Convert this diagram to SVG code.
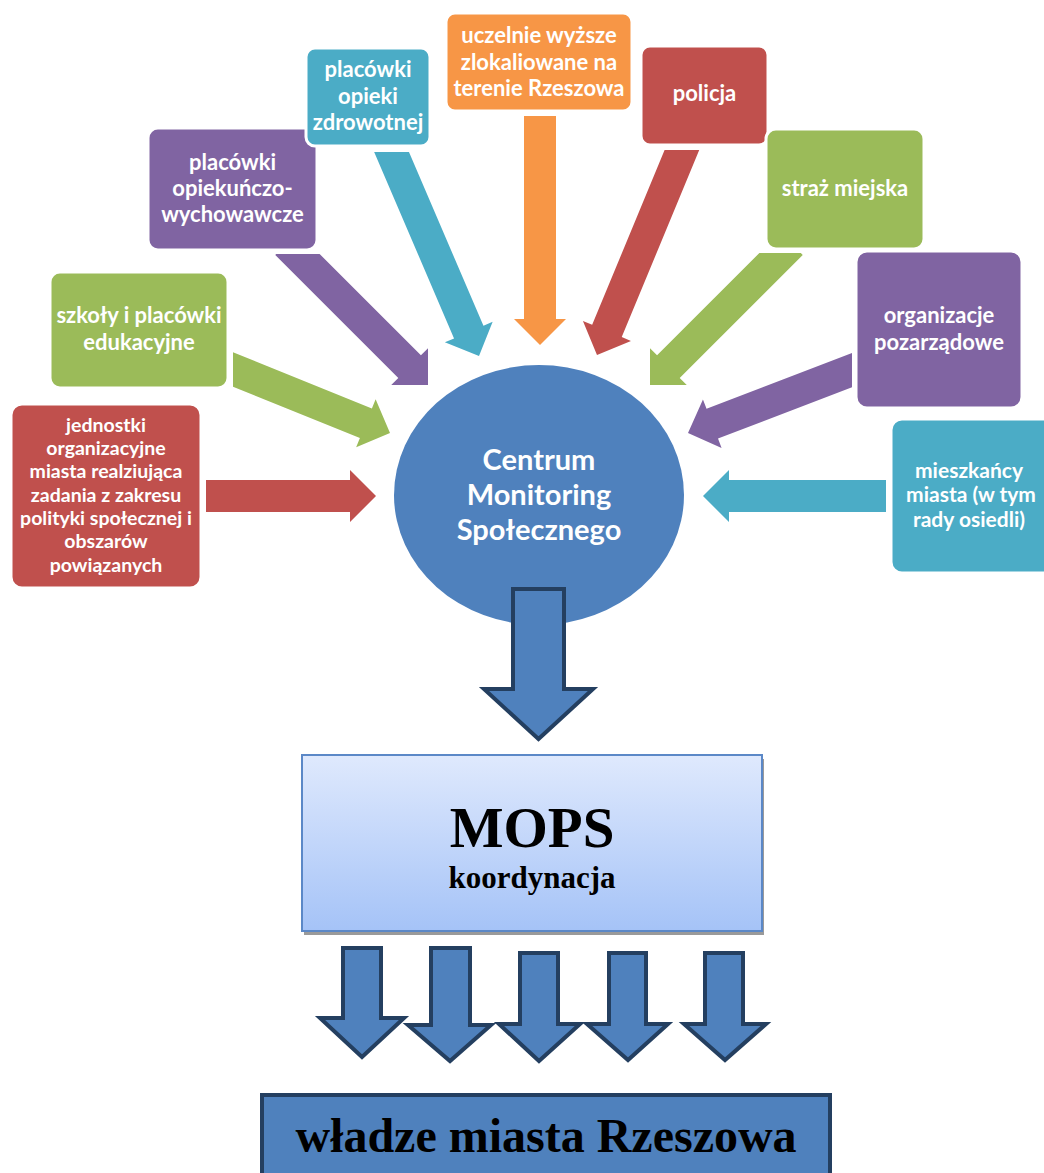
<svg xmlns="http://www.w3.org/2000/svg" width="1044" height="1173" viewBox="0 0 1044 1173">
<defs>
<style>
.bx{stroke:#fff;stroke-width:3}
.red{fill:#C0504D}.grn{fill:#9BBB59}.pur{fill:#8064A2}.tea{fill:#4BACC6}.org{fill:#F79646}
.t{font-family:Lato,"Open Sans","Noto Sans",sans-serif;font-weight:bold;fill:#fff;text-anchor:middle}
.t22{font-size:22px}.t21{font-size:21px}.t19{font-size:19.5px}
.ct{font-size:29px}
.blk{fill:#4F81BD;stroke:#243F60;stroke-width:4;stroke-linejoin:miter}
.tn{font-family:"Liberation Serif","Times New Roman",serif;font-weight:bold;fill:#000;text-anchor:middle}
</style>
<linearGradient id="mg" x1="0" y1="0" x2="0" y2="1">
<stop offset="0" stop-color="#DFE9FD"/>
<stop offset="1" stop-color="#A5C3F7"/>
</linearGradient>
<clipPath id="cGL"><rect x="233" y="0" width="811" height="1173"/></clipPath>
<clipPath id="cPL"><rect x="0" y="254" width="1044" height="919"/></clipPath>
<clipPath id="cTE"><rect x="0" y="152" width="1044" height="1021"/></clipPath>
<clipPath id="cPO"><rect x="0" y="150" width="1044" height="1023"/></clipPath>
<clipPath id="cGR"><rect x="0" y="253" width="1044" height="920"/></clipPath>
<clipPath id="cPR"><rect x="0" y="0" width="852" height="1173"/></clipPath>
</defs>
<rect width="1044" height="1173" fill="#fff"/>

<g id="connectors">
<path class="red" transform="translate(376,496)" d="M0,0 L-26,-26 L-26,-16 L-170,-16 L-170,16 L-26,16 L-26,26 Z"/>
<g clip-path="url(#cGL)"><path class="grn" transform="translate(390,433) rotate(22)" d="M0,0 L-26,-26 L-26,-16 L-185,-16 L-185,16 L-26,16 L-26,26 Z"/></g>
<g clip-path="url(#cPL)"><path class="pur" transform="translate(428,385) rotate(45)" d="M0,0 L-26,-26 L-26,-16 L-200,-16 L-200,16 L-26,16 L-26,26 Z"/></g>
<g clip-path="url(#cTE)"><path class="tea" transform="translate(479,356) rotate(66.8)" d="M0,0 L-26,-26 L-26,-16 L-236,-16 L-236,16 L-26,16 L-26,26 Z"/></g>
<path class="org" transform="translate(540,345) rotate(90)" d="M0,0 L-26,-26 L-26,-16 L-229,-16 L-229,16 L-26,16 L-26,26 Z"/>
<g clip-path="url(#cPO)"><path class="red" transform="translate(597,355) rotate(112.5)" d="M0,0 L-26,-26 L-26,-16 L-236,-16 L-236,16 L-26,16 L-26,26 Z"/></g>
<g clip-path="url(#cGR)"><path class="grn" transform="translate(650,385) rotate(135)" d="M0,0 L-26,-26 L-26,-16 L-200,-16 L-200,16 L-26,16 L-26,26 Z"/></g>
<g clip-path="url(#cPR)"><path class="pur" transform="translate(688,433) rotate(159)" d="M0,0 L-26,-26 L-26,-16 L-190,-16 L-190,16 L-26,16 L-26,26 Z"/></g>
<path class="tea" transform="translate(703,496) rotate(180)" d="M0,0 L-26,-26 L-26,-16 L-183,-16 L-183,16 L-26,16 L-26,26 Z"/>
</g>

<g id="n-jednostki">
<rect class="bx red" x="11" y="404" width="190" height="184" rx="11"/>
<text class="t t19" x="106"><tspan x="106" y="432">jednostki</tspan><tspan x="106" y="455">organizacyjne</tspan><tspan x="106" y="478">miasta realziująca</tspan><tspan x="106" y="502">zadania z zakresu</tspan><tspan x="106" y="525">polityki społecznej i</tspan><tspan x="106" y="548">obszarów</tspan><tspan x="106" y="572">powiązanych</tspan></text>
</g>
<g id="n-szkoly">
<rect class="bx grn" x="50" y="272" width="178" height="116" rx="10"/>
<text class="t t22"><tspan x="139" y="323">szkoły i placówki</tspan><tspan x="139" y="350">edukacyjne</tspan></text>
</g>
<g id="n-opiekunczo">
<rect class="bx pur" x="148" y="128" width="169" height="122" rx="10"/>
<text class="t t22"><tspan x="232.5" y="170">placówki</tspan><tspan x="232.5" y="196">opiekuńczo-</tspan><tspan x="232.5" y="222">wychowawcze</tspan></text>
</g>
<g id="n-zdrowotnej">
<rect class="bx tea" x="306" y="48" width="124" height="98" rx="9"/>
<text class="t t22"><tspan x="368" y="77">placówki</tspan><tspan x="368" y="103.5">opieki</tspan><tspan x="368" y="130">zdrowotnej</tspan></text>
</g>
<g id="n-uczelnie">
<rect class="bx org" x="446" y="13" width="186" height="98" rx="9"/>
<text class="t t22"><tspan x="539" y="43">uczelnie wyższe</tspan><tspan x="539" y="70">zlokaliowane na</tspan><tspan x="539" y="96">terenie Rzeszowa</tspan></text>
</g>
<g id="n-policja">
<rect class="bx red" x="641" y="46" width="127" height="99" rx="9"/>
<text class="t t22" x="704.5" y="101">policja</text>
</g>
<g id="n-straz">
<rect class="bx grn" x="766" y="129" width="158" height="120" rx="10"/>
<text class="t t22" x="845" y="196">straż miejska</text>
</g>
<g id="n-organizacje">
<rect class="bx pur" x="856" y="251" width="166" height="157" rx="11"/>
<text class="t t22"><tspan x="939" y="323">organizacje</tspan><tspan x="939" y="350">pozarządowe</tspan></text>
</g>
<g id="n-mieszkancy">
<rect class="bx tea" x="891" y="419" width="170" height="154" rx="11"/>
<text class="t t21"><tspan x="969" y="478">mieszkańcy</tspan><tspan x="971" y="502">miasta (w tym</tspan><tspan x="969" y="527">rady osiedli)</tspan></text>
</g>

<g id="n-centrum">
<ellipse cx="539" cy="495" rx="145" ry="130" fill="#4F81BD"/>
<text class="t ct"><tspan x="539" y="470">Centrum</tspan><tspan x="539" y="505">Monitoring</tspan><tspan x="539" y="540">Społecznego</tspan></text>
</g>

<g id="big-arrow">
<path class="blk" d="M513,589 L564,589 L564,689 L593,689 L538.5,739 L484,689 L513,689 Z"/>
</g>

<g id="n-mops">
<rect x="304" y="759" width="460" height="176" fill="#9A9A9A"/>
<rect x="302" y="755" width="460" height="176" fill="url(#mg)" stroke="#5B88C7" stroke-width="2"/>
<text class="tn" x="532" y="847" font-size="57">MOPS</text>
<text class="tn" x="532" y="888" font-size="31">koordynacja</text>
</g>

<g id="down-arrows">
<path class="blk" d="M343,948 L381,948 L381,1018 L404,1018 L362,1057 L320,1018 L343,1018 Z"/>
<path class="blk" d="M431,948 L470,948 L470,1025 L491,1025 L450,1061 L408,1025 L431,1025 Z"/>
<path class="blk" d="M520,953 L558,953 L558,1024 L580,1024 L539,1061 L499,1024 L520,1024 Z"/>
<path class="blk" d="M609,953 L646,953 L646,1024 L668,1024 L628,1060 L587,1024 L609,1024 Z"/>
<path class="blk" d="M705,953 L743,953 L743,1024 L766,1024 L725,1060 L684,1024 L705,1024 Z"/>
</g>

<g id="n-wladze">
<rect x="262" y="1095" width="568" height="100" fill="#4F81BD" stroke="#243F60" stroke-width="4"/>
<text class="tn" x="546" y="1152" font-size="48">władze miasta Rzeszowa</text>
</g>
</svg>
